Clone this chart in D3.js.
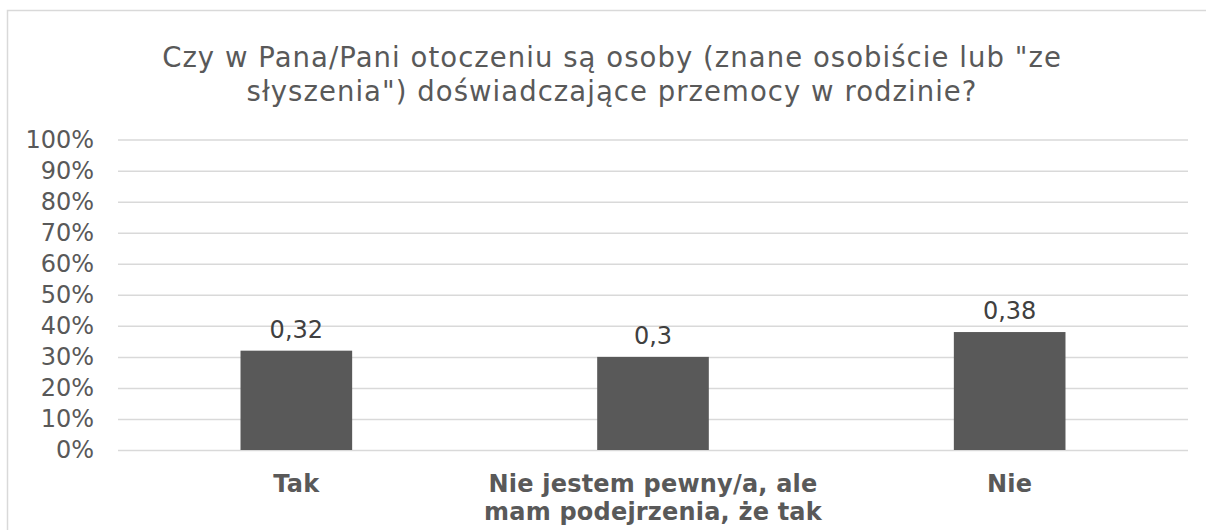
<!DOCTYPE html>
<html>
<head>
<meta charset="utf-8">
<script src="https://cdn.jsdelivr.net/npm/d3@7"></script>
<style>
  html, body { margin: 0; padding: 0; background: #fff; }
  svg { display: block; }
  text { font-family: "DejaVu Sans", Verdana, sans-serif; }
</style>
</head>
<body>
<svg id="chart" width="1206" height="530"></svg>
<script>
const titleLines = ["Czy w Pana/Pani otoczeniu są osoby (znane osobiście lub \"ze", "słyszenia\") doświadczające przemocy w rodzinie?"];
const categories = ["Tak", "Nie jestem pewny/a, ale mam podejrzenia, że tak", "Nie"];
const categoryLines = [["Tak"], ["Nie jestem pewny/a, ale", "mam podejrzenia, że tak"], ["Nie"]];
const values = [0.32, 0.3, 0.38];
const valueLabels = ["0,32", "0,3", "0,38"];
const yTicks = [0, 0.1, 0.2, 0.3, 0.4, 0.5, 0.6, 0.7, 0.8, 0.9, 1.0];

const svg = d3.select("#chart");
const W = 1206, H = 530;

// frame
svg.append("path")
  .attr("d", `M7.5,${H} L7.5,10.5 L${W},10.5`)
  .attr("fill", "none").attr("stroke", "#d9d9d9").attr("stroke-width", 1.5);

const plot = { left: 118, right: 1188, top: 139.6, bottom: 450 };

const x = d3.scaleBand().domain(categories).range([plot.left, plot.right])
  .paddingInner(0.687).paddingOuter(0.3435);
const y = d3.scaleLinear().domain([0, 1]).range([plot.bottom, plot.top]);

// title
const title = svg.append("text").attr("text-anchor", "middle")
  .attr("fill", "#595959").style("font-size", "27.5px").style("letter-spacing", "1.05px");
title.selectAll("tspan").data(titleLines).join("tspan")
  .attr("x", 612).attr("y", (d, i) => 67 + i * 34).text(d => d);

// gridlines
const yAxis = d3.axisLeft(y).tickValues(yTicks)
  .tickSize(-(plot.right - plot.left)).tickFormat(d3.format(".0%")).tickPadding(24);
const gy = svg.append("g").attr("transform", `translate(${plot.left},0)`).call(yAxis);
gy.select(".domain").remove();
gy.selectAll(".tick line").attr("stroke", "#d9d9d9").attr("stroke-width", 1.5);
gy.selectAll(".tick text").attr("fill", "#595959")
  .style("font-size", "24px").style("font-family", "'DejaVu Sans', Verdana, sans-serif");

// bars
svg.append("g").selectAll("rect").data(values).join("rect")
  .attr("x", (d, i) => x(categories[i]))
  .attr("width", x.bandwidth())
  .attr("y", d => y(d))
  .attr("height", d => y(0) - y(d))
  .attr("fill", "#595959");

// value labels
svg.append("g").selectAll("text").data(values).join("text")
  .attr("x", (d, i) => x(categories[i]) + x.bandwidth() / 2)
  .attr("y", d => y(d) - 13)
  .attr("text-anchor", "middle").attr("fill", "#404040")
  .style("font-size", "24px")
  .text((d, i) => valueLabels[i]);

// category labels
const xAxis = d3.axisBottom(x).tickSize(0).tickFormat("");
const gx = svg.append("g").attr("transform", `translate(0,${plot.bottom})`).call(xAxis);
gx.select(".domain").remove();
gx.selectAll(".tick").each(function(d, i) {
  const t = d3.select(this).append("text").attr("text-anchor", "middle")
    .attr("fill", "#595959").style("font-size", "24px").style("font-weight", "bold")
    .style("letter-spacing", "0.2px");
  t.selectAll("tspan").data(categoryLines[i]).join("tspan")
    .attr("x", 0).attr("y", (l, j) => 41.7 + j * 28.5).text(l => l);
});
</script>
</body>
</html>
